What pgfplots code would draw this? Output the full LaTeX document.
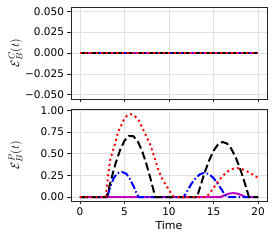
\documentclass[border=0pt]{standalone}
\usepackage{fontspec}
\setmainfont{DejaVu Sans}
\usepackage{pgfplots}
\pgfplotsset{compat=1.18}
\definecolor{mplm}{rgb}{0.75,0,0.75}
\pgfplotsset{
  myax/.style={
    scale only axis, width=196pt, height=92pt,
    xmin=-1, xmax=21,
    axis line style={line width=0.8pt, black!85},
    tick align=outside, tick pos=left,
    major tick length=3.5pt,
    every tick/.style={black!85, line width=0.8pt},
    grid=major, grid style={gray!25, line width=0.8pt},
    xtick={0,5,10,15,20},
    scaled y ticks=false, scaled x ticks=false,
    tick label style={font=\fontsize{10.5}{12}\selectfont},
    label style={font=\fontsize{11}{13}\selectfont},
    /pgf/number format/assume math mode=true,
    ylabel style={at={(axis description cs:-0.283,0.5)}, anchor=center, font=\fontsize{12.5}{14}\selectfont},
  },
  mag/.style={mplm, line width=2pt},
  blu/.style={blue, line width=2pt, dash pattern=on 8pt off 2.5pt on 1.5pt off 2.5pt},
  blk/.style={black, line width=2pt, dash pattern=on 8pt off 3.5pt},
  rd/.style={red, line width=2pt, dash pattern=on 2pt off 3.2pt},
}
\begin{document}
\begin{tikzpicture}
\useasboundingbox (0,0) rectangle (274pt,241pt);
% top axis
\begin{axis}[myax, at={(71pt,142pt)}, anchor=south west,
  ymin=-0.055, ymax=0.055,
  ytick={-0.05,-0.025,0,0.025,0.05},
  yticklabels={−0.050,−0.025,0.000,0.025,0.050},
  xticklabels={},
  ylabel={$\mathcal{E}^{C}_{B}(t)$},
]
\addplot[mag] coordinates {(0,0) (20,0)};
\addplot[blu] coordinates {(0,0) (20,0)};
\addplot[blk] coordinates {(0,0) (20,0)};
\addplot[rd] coordinates {(0,0) (20,0)};
\end{axis}
% bottom axis
\begin{axis}[myax, at={(71pt,40pt)}, anchor=south west,
  ymin=-0.045, ymax=1.015,
  ytick={0,0.25,0.5,0.75,1},
  yticklabels={0.00,0.25,0.50,0.75,1.00},
  xticklabels={0,5,10,15,20},
  ylabel={$\mathcal{E}^{P}_{B}(t)$},
  xlabel={Time},
  xlabel style={at={(axis description cs:0.5,-0.27)}, anchor=center},
]
\addplot[mag] coordinates {(0,0) (15.8,0) (16.2,0.02) (16.7,0.04) (17.2,0.046) (17.7,0.04) (18.2,0.02) (18.6,0) (20,0)};
\addplot[blu] coordinates {(0,0) (3.08,0) (3.4,0.12) (3.8,0.22) (4.2,0.275) (4.7,0.29) (5.2,0.27) (5.6,0.21) (6.0,0.13) (6.3,0.06) (6.58,0)
 (11.65,0) (12.0,0.06) (12.5,0.15) (13.0,0.22) (13.5,0.265) (14.0,0.28) (14.5,0.265) (15.0,0.22) (15.5,0.15) (16.0,0.07) (16.5,0) (20,0)};
\addplot[blk] coordinates {(0,0) (3.0,0) (3.5,0.20) (4.0,0.387) (4.5,0.540) (5.0,0.649) (5.5,0.704) (6.0,0.701) (6.5,0.641) (7.0,0.526) (7.5,0.369) (8.0,0.184) (8.45,0)
 (13.15,0) (13.5,0.119) (14.0,0.281) (14.5,0.422) (15.0,0.533) (15.5,0.606) (16.0,0.635) (16.5,0.618) (17.0,0.556) (17.5,0.455) (18.0,0.320) (18.5,0.164) (18.98,0) (20,0)};
\addplot[rd] coordinates {(0,0) (2.9,0) (3.2,0.28) (3.4,0.43) (3.95,0.62) (4.3,0.75) (4.9,0.885) (5.3,0.94) (5.7,0.955) (6.1,0.94) (6.6,0.885) (7.0,0.80) (7.5,0.69) (7.9,0.60) (8.4,0.45) (8.8,0.31) (9.3,0.20) (9.6,0.15) (10.0,0.08) (10.4,0.02) (10.6,0)
 (14.2,0) (14.6,0.05) (15.1,0.12) (15.5,0.18) (16.0,0.24) (16.5,0.29) (17.0,0.32) (17.5,0.335) (18.0,0.33) (18.5,0.31) (19.0,0.285) (19.5,0.255) (20.0,0.22)};
\end{axis}
\end{tikzpicture}
\end{document}
